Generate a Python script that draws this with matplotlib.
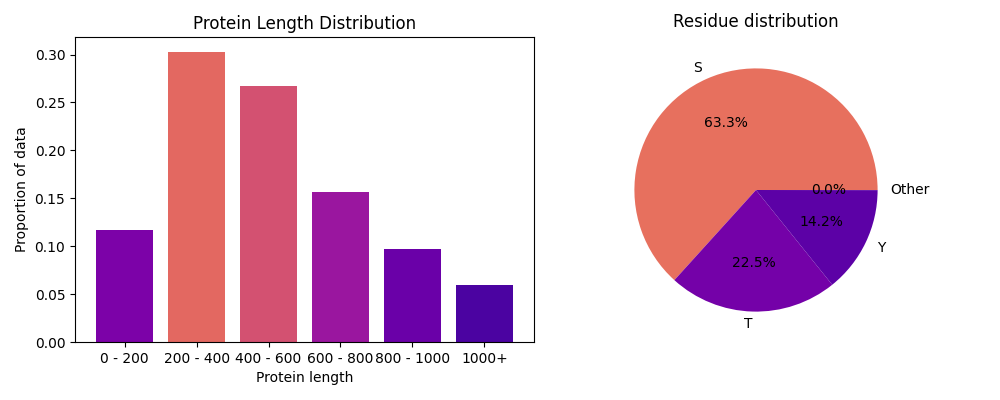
import matplotlib
matplotlib.use("Agg")
import matplotlib.pyplot as plt

length_bins = ["0 - 200", "200 - 400", "400 - 600", "600 - 800", "800 - 1000", "1000+"]
length_props = [0.117, 0.303, 0.267, 0.157, 0.097, 0.060]
bar_colors = ["#7c02a8", "#e36861", "#d35171", "#9a169f", "#6a00a8", "#4b03a1"]

residues = ["S", "T", "Y", "Other"]
residue_share = [63.3, 22.5, 14.2, 0.02]
pie_colors = ["#e7705e", "#7401a8", "#5c01a6", "#4b03a1"]

fig = plt.figure(figsize=(10, 4), dpi=100)
ax1 = fig.add_axes([0.075, 0.145, 0.459, 0.762])
ax1.bar(length_bins, length_props, color=bar_colors)
ax1.set_title("Protein Length Distribution")
ax1.set_xlabel("Protein length")
ax1.set_ylabel("Proportion of data")

ax2 = fig.add_axes([0.604, 0.145, 0.304, 0.76])
ax2.pie(residue_share, labels=residues, colors=pie_colors, autopct="%1.1f%%")
ax2.set_title("Residue distribution", pad=8)

fig.savefig("out.png")
